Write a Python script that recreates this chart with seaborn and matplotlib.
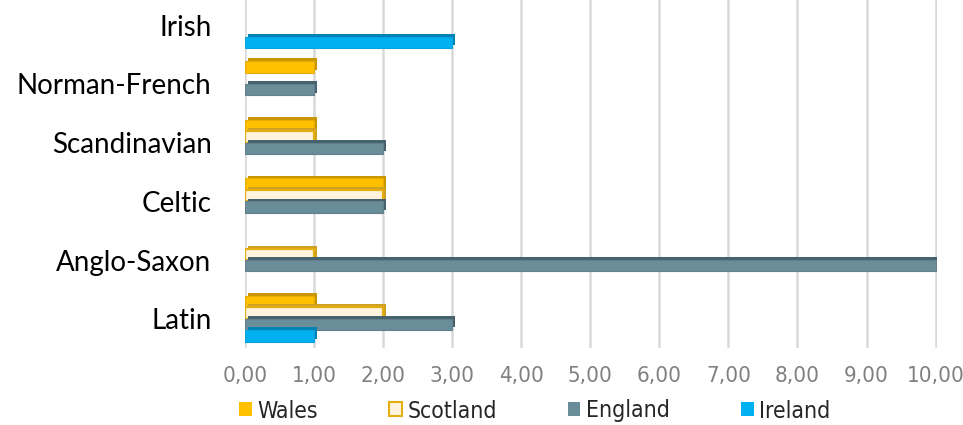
import matplotlib
matplotlib.use("Agg")
import matplotlib.pyplot as plt
import seaborn as sns
import pandas as pd
from matplotlib import patheffects as pe
from matplotlib.patches import Patch
from matplotlib.ticker import FixedLocator, FuncFormatter

# ---- data ----
categories = ["Irish", "Norman-French", "Scandinavian", "Celtic", "Anglo-Saxon", "Latin"]
series = ["Wales", "Scotland", "England", "Ireland"]
wales = [0, 1, 1, 2, 0, 1]
scotland = [0, 0, 1, 2, 1, 2]
england = [0, 1, 2, 2, 10, 3]
ireland = [3, 0, 0, 0, 0, 1]
x_ticks = [0, 1, 2, 3, 4, 5, 6, 7, 8, 9, 10]

values = {"Wales": wales, "Scotland": scotland, "England": england, "Ireland": ireland}
rows = []
for s in series:
    for c, v in zip(categories, values[s]):
        rows.append({"Category": c, "Series": s, "Value": v})
df = pd.DataFrame(rows)

face = {"Wales": "#FFC000", "Scotland": "#FFF3DD", "England": "#6A8D9A", "Ireland": "#00B0F0"}
edge = {"Wales": "#E6AC00", "Scotland": "#E2AE12", "England": "#627F8B", "Ireland": "#0AA3DD"}
shade = {"Wales": "#C89600", "Scotland": "#CFA020", "England": "#46626C", "Ireland": "#0082B4"}

sns.set_theme(style="white")
plt.rcParams["font.family"] = ["DejaVu Sans"]

fig = plt.figure(figsize=(9.63, 4.25), dpi=100)
ax = fig.add_axes([245 / 963, 1 - 348 / 425, (937 - 245) / 963, 352 / 425])

sns.barplot(data=df, y="Category", x="Value", hue="Series", order=categories,
            hue_order=series, palette=face, orient="h", width=0.78, saturation=1,
            legend=False, ax=ax, zorder=3)

for s, cont in zip(series, ax.containers):
    for bar in cont:
        if bar.get_width() == 0:
            bar.set_visible(False)
            continue
        bar.set_edgecolor(edge[s])
        bar.set_linewidth(1.6 if s == "Scotland" else 0.8)
        bar.set_path_effects([
            pe.SimplePatchShadow(offset=(2, 2), shadow_rgbFace=shade[s], alpha=1.0),
            pe.Normal(),
        ])

ax.set_xlim(0, 10.02)
ax.set_ylim(5.5, -0.5)
ax.xaxis.set_major_locator(FixedLocator(x_ticks))
ax.xaxis.set_major_formatter(FuncFormatter(lambda v, p: f"{v:.2f}".replace(".", ",")))
ax.grid(axis="x", color="#D9D9D9", linewidth=1.8, zorder=0)
ax.grid(axis="y", visible=False)
for sp in ax.spines.values():
    sp.set_visible(False)
ax.set_xlabel("")
ax.set_ylabel("")
ax.tick_params(axis="x", length=0, pad=13, labelsize=16, labelcolor="#808080")
ax.tick_params(axis="y", length=0, pad=24, labelsize=20, labelcolor="#000000")
for lab in ax.get_yticklabels():
    lab.set_fontfamily(["Lato", "DejaVu Sans"])
for lab in ax.get_xticklabels():
    lab.set_fontstretch("condensed")

handles = [Patch(facecolor=face[s], edgecolor=edge[s], linewidth=1.5 if s == "Scotland" else 0)
           for s in series]
leg = fig.legend(handles, series, loc="center left", bbox_to_anchor=(239 / 963, 14 / 425),
                 ncol=4, frameon=False, fontsize=16.5, handlelength=0.55, handleheight=0.55,
                 handletextpad=0.25, columnspacing=3.1, borderpad=0, borderaxespad=0)
for t in leg.get_texts():
    t.set_fontstretch("condensed")

fig.savefig("out.png", dpi=100)
